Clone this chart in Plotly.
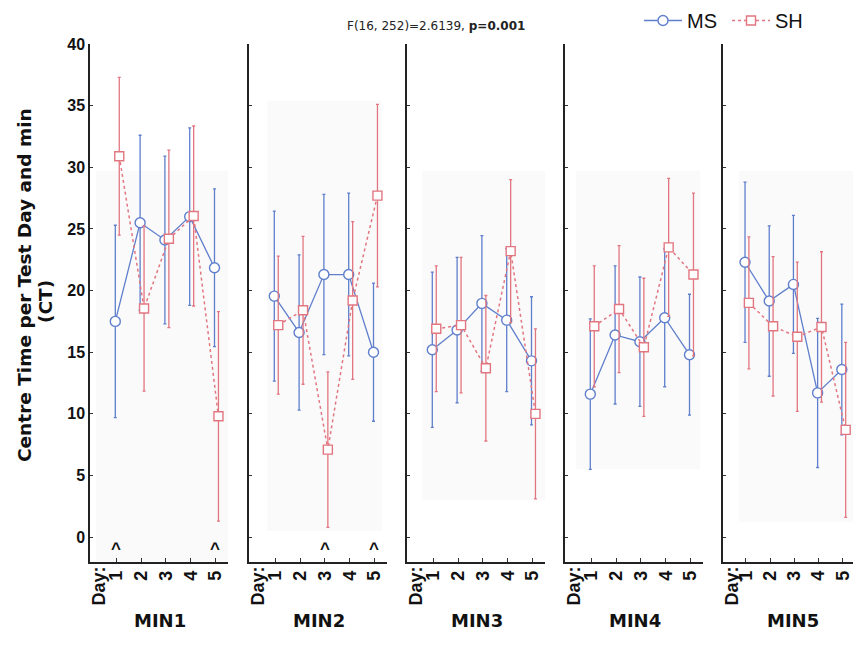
import plotly.graph_objects as go

# Days of testing and the five one-minute bins
days = [1, 2, 3, 4, 5]
panels = ["MIN1", "MIN2", "MIN3", "MIN4", "MIN5"]

# Mean centre time (CT) and 95% CI half-widths, per minute bin
ms_mean = [
    [17.5, 25.5, 24.1, 26.0, 21.85],
    [19.55, 16.6, 21.3, 21.3, 15.0],
    [15.2, 16.8, 18.96, 17.6, 14.3],
    [11.6, 16.4, 15.85, 17.8, 14.8],
    [22.3, 19.15, 20.5, 11.7, 13.6],
]
ms_ci = [
    [7.8, 7.1, 6.8, 7.2, 6.4],
    [6.9, 6.3, 6.5, 6.6, 5.6],
    [6.3, 5.9, 5.5, 5.8, 5.2],
    [6.1, 5.6, 5.25, 5.6, 4.9],
    [6.5, 6.1, 5.6, 6.05, 5.3],
]
sh_mean = [
    [30.9, 18.55, 24.2, 26.05, 9.8],
    [17.2, 18.4, 7.1, 19.2, 27.7],
    [16.9, 17.2, 13.7, 23.2, 10.0],
    [17.1, 18.5, 15.4, 23.5, 21.3],
    [19.0, 17.1, 16.25, 17.05, 8.7],
]
sh_ci = [
    [6.4, 6.7, 7.2, 7.3, 8.5],
    [5.6, 6.0, 6.3, 6.4, 7.4],
    [5.1, 5.5, 5.9, 5.8, 6.9],
    [4.9, 5.15, 5.6, 5.6, 6.6],
    [5.35, 5.65, 6.05, 6.1, 7.1],
]

# Days flagged with a caret, per panel index
sig_days = {0: [1, 5], 1: [3, 5]}

y_ticks = [0, 5, 10, 15, 20, 25, 30, 35, 40]

BLUE = "#5f7fcc"
RED = "#e27680"
ARIAL = "Arial, Liberation Sans, sans-serif"
WIDE = "DejaVu Sans, sans-serif"

W, H = 853, 648
# panel pixel extents and x scale (px per day, first visible x value)
px_left = [90, 249, 407, 565, 723]
px_width = [138, 138, 138, 138, 130]
px_unit = [24.8, 24.8, 24.8, 24.8, 24.2]
x_start = [-0.06, -0.06, -0.06, -0.06, 0.05]
y_dom = [1 - 561.8 / H, 1 - 44 / H]

fig = go.Figure()

for i in range(5):
    ax = "" if i == 0 else str(i + 1)
    xa, ya = "x" + ax, "y" + ax
    show = i == 0
    fig.add_trace(go.Scatter(
        x=[d - 0.04 for d in days], y=ms_mean[i], xaxis=xa, yaxis=ya,
        mode="lines+markers", name="MS", showlegend=show, legendgroup="MS",
        line=dict(color=BLUE, width=1.3),
        marker=dict(symbol="circle", size=10, color="white", line=dict(color=BLUE, width=1.4)),
        error_y=dict(type="data", array=ms_ci[i], color=BLUE, thickness=1.3, width=1.5),
    ))
    fig.add_trace(go.Scatter(
        x=[d + 0.12 for d in days], y=sh_mean[i], xaxis=xa, yaxis=ya,
        mode="lines+markers", name="SH", showlegend=show, legendgroup="SH",
        line=dict(color=RED, width=1.5, dash="dot"),
        marker=dict(symbol="square", size=9, color="white", line=dict(color=RED, width=1.4)),
        error_y=dict(type="data", array=sh_ci[i], color=RED, thickness=1.3, width=1.5),
    ))

    x0 = px_left[i] / W
    x1 = (px_left[i] + px_width[i]) / W
    span = px_width[i] / px_unit[i]
    fig.layout["xaxis" + ax] = dict(
        domain=[x0, min(x1, 1.0)], range=[x_start[i], x_start[i] + span], anchor=ya,
        tickvals=days, ticktext=[str(d) for d in days], tickangle=-90,
        ticks="inside", ticklen=4, tickcolor="#333", ticklabeloverflow="allow",
        tickfont=dict(family=ARIAL, size=18, color="#111", weight="bold"),
        showline=True, linecolor="#222", linewidth=1.5,
        showgrid=False, zeroline=False, fixedrange=True,
    )
    fig.layout["yaxis" + ax] = dict(
        domain=y_dom, range=[-2, 40], anchor=xa,
        tickvals=y_ticks, showticklabels=show,
        ticks="inside", ticklen=3, tickcolor="#333",
        tickfont=dict(family=ARIAL, size=16, color="#111", weight="bold"),
        showline=True, linecolor="#222", linewidth=1.5,
        showgrid=False, zeroline=False, fixedrange=True,
    )

    # panel caption and the "Day:" label
    fig.add_annotation(
        text="<b>%s</b>" % panels[i], xref="paper", yref="paper", xanchor="center",
        x=(px_left[i] + 70) / W, y=1 - 633 / H, showarrow=False,
        font=dict(family=WIDE, size=18, color="#111"),
    )
    fig.add_annotation(
        text="<b>Day:</b>", xref="paper", yref="paper", x=(px_left[i] + 8) / W, y=1 - 565 / H,
        xanchor="center", yanchor="top", textangle=-90, showarrow=False,
        font=dict(family=ARIAL, size=18, color="#111"),
    )
    for d in sig_days.get(i, []):
        fig.add_annotation(
            text="<b>^</b>", xref=xa, yref=ya, x=d, y=-0.9, showarrow=False,
            font=dict(family=ARIAL, size=17, color="#111"),
        )

# faint shaded frames behind the data in each panel
frames = [(0.18, 5.6, -2, 29.7), (0.67, 5.3, 0.5, 35.4), (0.55, 5.6, 3.0, 29.7),
          (0.39, 5.4, 5.5, 29.7), (0.7, 5.5, 1.2, 29.7)]
for i, (fx0, fx1, fy0, fy1) in enumerate(frames):
    ax = "" if i == 0 else str(i + 1)
    fig.add_shape(type="rect", xref="x" + ax, yref="y" + ax, x0=fx0, x1=fx1, y0=fy0, y1=fy1,
                  fillcolor="rgba(0,0,0,0.018)", line=dict(width=0), layer="below")

fig.add_annotation(
    text="F(16, 252)=2.6139, <b>p=0.001</b>", xref="paper", yref="paper",
    x=436 / W, y=1 - 17 / H, xanchor="center", showarrow=False,
    font=dict(family=WIDE, size=12, color="#222"),
)
fig.add_annotation(
    text="<b>Centre Time per Test Day and min</b>", xref="paper", yref="paper",
    x=24 / W, y=1 - 285 / H, xanchor="center", yanchor="middle",
    textangle=-90, showarrow=False,
    font=dict(family=WIDE, size=18.5, color="#111"),
)
fig.add_annotation(
    text="<b>(CT)</b>", xref="paper", yref="paper",
    x=45 / W, y=1 - 302 / H, xanchor="center", yanchor="middle",
    textangle=-90, showarrow=False,
    font=dict(family=WIDE, size=18.5, color="#111"),
)

fig.update_layout(
    width=W, height=H, margin=dict(l=0, r=0, t=0, b=0, autoexpand=False),
    paper_bgcolor="white", plot_bgcolor="rgba(0,0,0,0)",
    showlegend=True,
    legend=dict(orientation="h", x=639 / W, y=1 - 1 / H, xanchor="left", yanchor="top",
                font=dict(family=ARIAL, size=20, color="#111"),
                bgcolor="rgba(0,0,0,0)", itemwidth=38,
                entrywidth=35, entrywidthmode="pixels"),
)

fig.write_html("out.html")
